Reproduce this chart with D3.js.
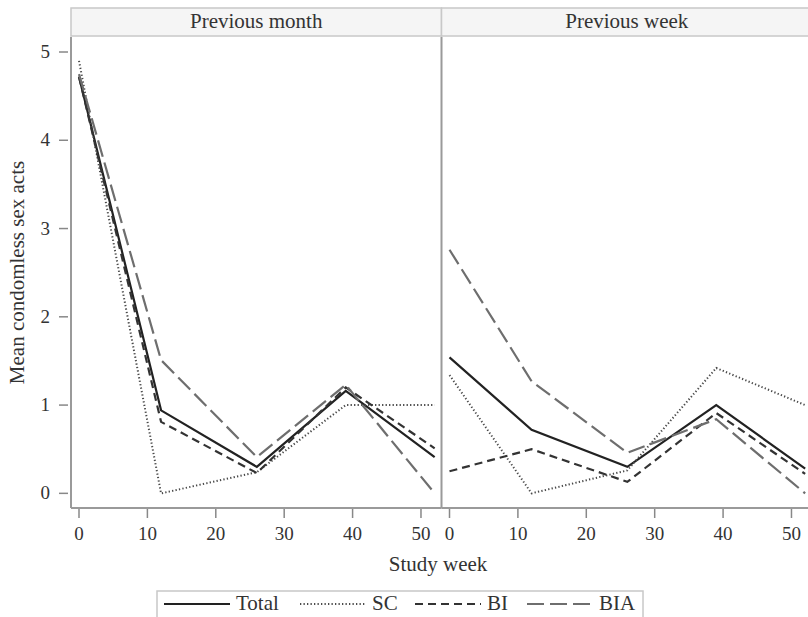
<!DOCTYPE html>
<html>
<head>
<meta charset="utf-8">
<script src="https://cdn.jsdelivr.net/npm/d3@7"></script>
</head>
<body style="margin:0">
<script>
// Chart data
const weeks = [0, 12, 26, 39, 52];
const panelTitles = ['Previous month', 'Previous week'];
const seriesNames = ['Total', 'SC', 'BI', 'BIA'];
const xTicks = [0, 10, 20, 30, 40, 50];
const yTicks = [0, 1, 2, 3, 4, 5];

// Previous month
const monthTotal = [4.72, 0.94, 0.30, 1.16, 0.41];
const monthSC = [4.90, 0.00, 0.24, 1.00, 1.00];
const monthBI = [4.72, 0.81, 0.23, 1.20, 0.51];
const monthBIA = [4.75, 1.51, 0.41, 1.23, 0.00];

// Previous week
const weekTotal = [1.54, 0.72, 0.30, 1.00, 0.28];
const weekSC = [1.34, 0.00, 0.26, 1.42, 1.00];
const weekBI = [0.25, 0.50, 0.13, 0.91, 0.22];
const weekBIA = [2.76, 1.27, 0.46, 0.84, 0.00];

const panelData = [
    [monthTotal, monthSC, monthBI, monthBIA],
    [weekTotal, weekSC, weekBI, weekBIA]
];

// Line styles per series
const styles = {
    Total: { color: '#222', width: 2.2, dash: null },
    SC: { color: '#4a4a4a', width: 2, dash: '1.3,2.2' },
    BI: { color: '#333', width: 2.2, dash: '8,5' },
    BIA: { color: '#6e6e6e', width: 2.2, dash: '17,6' }
};

const width = 808, height = 617;
const left = 71, panelW = 370.5;
const plotTop = 37, plotBottom = 508;

const svg = d3.select('body').append('svg')
    .attr('width', width)
    .attr('height', height);

const y = d3.scaleLinear().domain([-0.166, 5.17]).range([plotBottom, plotTop]);

// adds a serif text straight onto the svg
function addText(x, yPos, str, size, anchor) {
    return svg.append('text')
        .attr('x', x)
        .attr('y', yPos)
        .attr('text-anchor', anchor || 'middle')
        .style('font-family', '"Liberation Serif"')
        .style('font-size', size + 'px')
        .style('fill', '#333')
        .text(str);
}

panelTitles.forEach((title, p) => {
    const x0 = left + p * panelW;
    const x = d3.scaleLinear().domain([-1.17, 53.0]).range([x0, x0 + panelW]);

    // Strip header
    svg.append('rect')
        .attr('x', x0)
        .attr('y', 8)
        .attr('width', panelW)
        .attr('height', 28)
        .style('fill', '#f5f5f5')
        .style('stroke', '#c8c8c8')
        .style('stroke-width', 1.5);

    addText(x0 + panelW / 2, 28, title, 21);

    // Series lines
    const line = d3.line()
        .x((d, i) => x(weeks[i]))
        .y(d => y(d));

    seriesNames.forEach((name, s) => {
        const st = styles[name];
        svg.append('path')
            .datum(panelData[p][s])
            .attr('d', line)
            .style('fill', 'none')
            .style('stroke', st.color)
            .style('stroke-width', st.width)
            .style('stroke-dasharray', st.dash)
            .style('stroke-linejoin', 'miter');
    });

    // Panel left border and bottom axis line
    svg.append('line')
        .attr('x1', x0).attr('x2', x0)
        .attr('y1', plotTop).attr('y2', plotBottom)
        .style('stroke', '#9a9a9a')
        .style('stroke-width', 2);
    svg.append('line')
        .attr('x1', x0).attr('x2', x0 + panelW)
        .attr('y1', plotBottom).attr('y2', plotBottom)
        .style('stroke', '#9a9a9a')
        .style('stroke-width', 2);

    // X ticks and labels
    xTicks.forEach(t => {
        svg.append('line')
            .attr('x1', x(t)).attr('x2', x(t))
            .attr('y1', plotBottom + 1).attr('y2', plotBottom + 10)
            .style('stroke', '#888')
            .style('stroke-width', 1.5);
        addText(x(t), 540, String(t), 19);
    });
});

// Y ticks and labels
yTicks.forEach(t => {
    svg.append('line')
        .attr('x1', left - 12).attr('x2', left - 3)
        .attr('y1', y(t)).attr('y2', y(t))
        .style('stroke', '#888')
        .style('stroke-width', 1.5);
    addText(left - 21, y(t) + 6, String(t), 19, 'end');
});

// Axis titles
addText(0, 0, 'Mean condomless sex acts', 21)
    .attr('x', null).attr('y', null)
    .attr('transform', `translate(24,${(plotTop + plotBottom) / 2}) rotate(-90)`);

addText(438, 571, 'Study week', 21);

// Legend
svg.append('rect')
    .attr('x', 157)
    .attr('y', 591)
    .attr('width', 486)
    .attr('height', 40)
    .style('fill', '#fff')
    .style('stroke', '#c8c8c8')
    .style('stroke-width', 1.5);

const legendX = [164, 300, 415, 527];
seriesNames.forEach((name, i) => {
    const st = styles[name];
    svg.append('line')
        .attr('x1', legendX[i])
        .attr('x2', legendX[i] + 66)
        .attr('y1', 604).attr('y2', 604)
        .style('stroke', st.color)
        .style('stroke-width', st.width)
        .style('stroke-dasharray', st.dash);
    addText(legendX[i] + 72, 610, name, 21, 'start');
});
</script>
</body>
</html>
